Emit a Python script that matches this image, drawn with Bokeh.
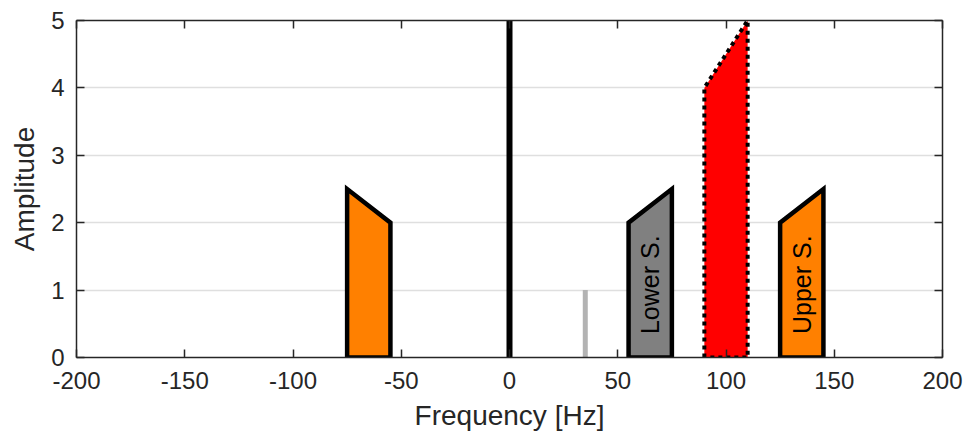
import math
from bokeh.plotting import figure
from bokeh.models import ColumnDataSource, LinearAxis, FixedTicker, CustomJSTickFormatter
from bokeh.core.properties import value
from bokeh.embed import file_html
from bokeh.resources import INLINE

# ---- data ----
x_ticks = [-200, -150, -100, -50, 0, 50, 100, 150, 200]
y_ticks = [0, 1, 2, 3, 4, 5]

line_freqs = [0, 35]
line_amps = [5, 1]
line_colors = ["#000000", "#b3b3b3"]
line_widths = [6, 5]

neg_side_x = [-75, -75, -55, -55]
neg_side_y = [0, 2.5, 2, 0]
lower_side_x = [55, 55, 75, 75]
lower_side_y = [0, 2, 2.5, 0]
upper_side_x = [125, 125, 145, 145]
upper_side_y = [0, 2, 2.5, 0]
carrier_x = [90, 90, 110, 110]
carrier_y = [0, 4, 5, 0]

label_x = [65, 135]
label_y = [1.08, 1.08]
label_text = ["Lower S.", "Upper S."]

FONT = "Liberation Sans"
AX = "#262626"

p = figure(width=967, height=434, x_range=(-200, 200), y_range=(0, 5),
           output_backend="svg", toolbar_location=None,
           min_border_left=76, min_border_right=25, min_border_top=20, min_border_bottom=77)
p.background_fill_color = "white"
p.border_fill_color = "white"
p.outline_line_color = None

p.xgrid.visible = False
p.ygrid.ticker = FixedTicker(ticks=y_ticks)
p.ygrid.grid_line_color = "#dfdfdf"
p.ygrid.grid_line_width = 1.5

def style_axis(ax, ticks, show_labels):
    ax.ticker = FixedTicker(ticks=ticks)
    ax.major_tick_in = 8
    ax.major_tick_out = 0
    ax.minor_tick_line_color = None
    ax.axis_line_color = AX
    ax.axis_line_width = 1.5
    ax.major_tick_line_color = AX
    ax.major_tick_line_width = 1.5
    ax.major_label_text_font = FONT
    ax.major_label_text_font_size = "24px"
    ax.major_label_text_color = AX
    ax.axis_label_text_font = FONT
    ax.axis_label_text_font_size = "28px"
    ax.axis_label_text_font_style = "normal"
    ax.axis_label_text_color = AX
    if show_labels:
        ax.formatter = CustomJSTickFormatter(code="return tick.toString()")
    else:
        ax.formatter = CustomJSTickFormatter(code="return ''")
        ax.major_label_standoff = 0

xa = p.xaxis[0]
style_axis(xa, x_ticks, True)
xa.axis_label = "Frequency [Hz]"
xa.major_label_standoff = 14
xa.axis_label_standoff = 8

ya = p.yaxis[0]
style_axis(ya, y_ticks, True)
ya.axis_label = "Amplitude"
ya.major_label_standoff = 12
ya.axis_label_standoff = 8

top = LinearAxis()
style_axis(top, x_ticks, False)
p.add_layout(top, "above")
right = LinearAxis()
style_axis(right, y_ticks, False)
p.add_layout(right, "right")

# spectral lines
src = ColumnDataSource(dict(x=line_freqs, y1=line_amps, y0=[0] * len(line_freqs),
                            c=line_colors, w=line_widths))
p.segment(x0="x", y0="y0", x1="x", y1="y1", line_color="c", line_width="w",
          line_cap="butt", source=src)

# side bands
p.patches(xs=[neg_side_x, lower_side_x, upper_side_x],
          ys=[neg_side_y, lower_side_y, upper_side_y],
          fill_color=["#ff8000", "#808080", "#ff8000"],
          line_color="black", line_width=4.5, line_join="miter")

# carrier band
p.patch(x=carrier_x, y=carrier_y, fill_color="#ff0000", line_color="black",
        line_width=4, line_dash="4 4")

p.text(x=label_x, y=label_y, text=label_text, angle=math.pi / 2,
       text_align="center", text_baseline="middle",
       text_font=value(FONT), text_font_size="25px", text_color="black")

open("out.html", "w").write(file_html(p, INLINE))
